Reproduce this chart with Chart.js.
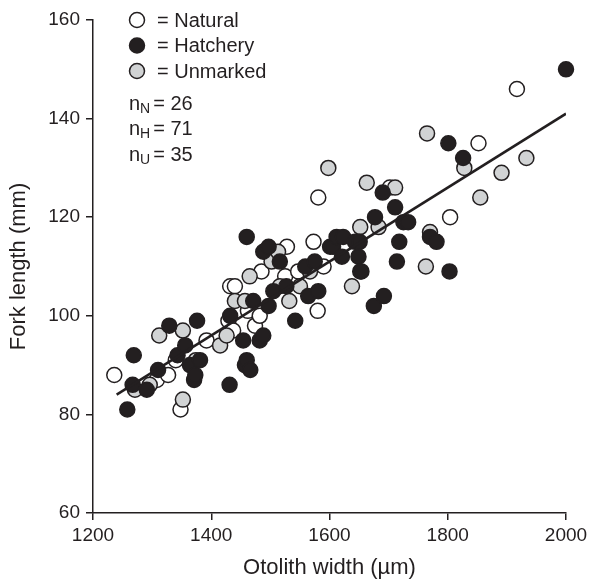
<!DOCTYPE html>
<html>
<head>
<meta charset="utf-8">
<script src="https://cdn.jsdelivr.net/npm/chart.js@4.4.0/dist/chart.umd.min.js"></script>
<style>
  html, body { margin: 0; padding: 0; background: #fff; }
</style>
</head>
<body>
<canvas id="chart" width="589" height="585"></canvas>
<script>
// otolith width (um), fork length (mm)
const natural = [
  [1236, 88], [1308, 87], [1327, 88], [1340, 91], [1348, 81], [1392, 95],
  [1429, 99], [1437, 97], [1432, 106], [1440, 106], [1462, 101], [1474, 98],
  [1482, 100], [1485, 109], [1525, 108], [1528, 114], [1547, 109], [1573, 115],
  [1580, 101], [1590, 110], [1581, 124], [1702, 126], [1804, 120], [1852, 135],
  [1917, 146]
]
const hatchery = [
  [1258, 81], [1267, 86], [1269, 92], [1291, 85], [1310, 89], [1329, 98],
  [1343, 92], [1356, 94], [1364, 90], [1371, 87], [1373, 88], [1376, 99],
  [1381, 91], [1431, 86], [1432, 100], [1454, 95], [1457, 90], [1460, 91],
  [1466, 89], [1471, 103], [1482, 95], [1488, 96], [1497, 102], [1505, 105],
  [1527, 106], [1542, 99], [1564, 104], [1581, 105], [1460, 116], [1488, 113],
  [1497, 114], [1516, 111], [1559, 110], [1575, 111], [1601, 114], [1606, 114],
  [1612, 116], [1623, 116], [1621, 112], [1643, 115], [1649, 112], [1651, 115],
  [1652, 109], [1654, 109], [1675, 102], [1692, 104], [1677, 120], [1690, 125],
  [1711, 122], [1714, 111], [1718, 115], [1725, 119], [1733, 119], [1770, 116],
  [1781, 115], [1803, 109], [1801, 135], [1826, 132], [2000, 150]
]
const unmarked = [
  [1271, 85], [1296, 86], [1312, 96], [1352, 97], [1352, 83], [1374, 91],
  [1415, 94], [1426, 96], [1440, 103], [1457, 103], [1465, 108], [1502, 111],
  [1513, 113], [1516, 106], [1532, 103], [1550, 106], [1567, 109], [1598, 130],
  [1638, 106], [1652, 118], [1663, 127], [1683, 118], [1711, 126], [1763, 110],
  [1765, 137], [1770, 117], [1828, 130], [1855, 124], [1891, 129], [1933, 132]
]
const fitX = [1240, 2000]
const fitY = [84, 141]

const counts = [['N', 26], ['H', 71], ['U', 35]]
const legendItems = [['Natural', '#ffffff'], ['Hatchery', '#231f20'], ['Unmarked', '#d1d3d4']]

const ink = '#231f20'
const family = '"Liberation Sans", Arial, sans-serif'
const toPts = (arr) => arr.map((p) => ({ x: p[0], y: p[1] }))

const pointSet = (label, arr, fill) => ({
  type: 'scatter',
  label,
  data: toPts(arr),
  backgroundColor: fill,
  borderColor: ink,
  borderWidth: 1.5,
  pointRadius: 7.5,
  clip: false,
})

// legend + sample sizes drawn in the top left corner
const legendPlugin = {
  id: 'cornerLegend',
  afterDatasetsDraw(chart) {
    const ctx = chart.ctx
    ctx.save()
    ctx.textBaseline = 'middle'
    legendItems.forEach((item, i) => {
      const y = 20 + i * 25.5
      ctx.beginPath()
      ctx.arc(137, y, 7.5, 0, Math.PI * 2)
      ctx.fillStyle = item[1]
      ctx.fill()
      ctx.lineWidth = 1.5
      ctx.strokeStyle = ink
      ctx.stroke()
      ctx.fillStyle = ink
      ctx.font = '20px ' + family
      ctx.fillText('= ' + item[0], 157, y + 1)
    })
    counts.forEach((c, i) => {
      const y = 104 + i * 25.5
      ctx.font = '20px ' + family
      ctx.fillText('n', 129, y)
      let x = 129 + ctx.measureText('n').width
      ctx.font = '14px ' + family
      ctx.fillText(c[0], x, y + 5)
      x += ctx.measureText(c[0]).width + 3
      ctx.font = '20px ' + family
      ctx.fillText('= ' + c[1], x, y)
    })
    ctx.restore()
  },
}

const ctx = document.getElementById('chart').getContext('2d')
new Chart(ctx, {
  data: {
    datasets: [
      {
        type: 'line',
        label: 'fit',
        data: toPts(fitX.map((x, i) => [x, fitY[i]])),
        borderColor: ink,
        borderWidth: 2.5,
        pointRadius: 0,
        fill: false,
      },
      pointSet('Hatchery', hatchery, '#231f20'),
      pointSet('Unmarked', unmarked, '#d1d3d4'),
      pointSet('Natural', natural, '#ffffff'),
    ],
  },
  options: {
    responsive: false,
    animation: false,
    layout: { padding: { left: 0, right: 23, top: 20, bottom: 0 } },
    plugins: {
      legend: { display: false },
      tooltip: { enabled: false },
    },
    scales: {
      x: {
        type: 'linear',
        min: 1200,
        max: 2000,
        ticks: {
          stepSize: 200,
          color: ink,
          padding: 4,
          font: { size: 19, family },
          callback: (value) => String(value),
        },
        grid: { drawOnChartArea: false, color: ink, lineWidth: 1.5, tickLength: 7 },
        border: { color: ink, width: 1.5 },
        title: { display: true, text: 'Otolith width (µm)', color: ink, padding: { top: 0, bottom: 4 }, font: { size: 22, family } },
        afterFit: (scale) => {
          scale.height = 72
          scale.paddingRight = 0
          scale.paddingLeft = 0
        },
      },
      y: {
        min: 60,
        max: 160,
        ticks: { stepSize: 20, color: ink, padding: 6, font: { size: 19, family } },
        grid: { drawOnChartArea: false, color: ink, lineWidth: 1.5, tickLength: 7 },
        border: { color: ink, width: 1.5 },
        title: { display: true, text: 'Fork length (mm)', color: ink, padding: { top: 6, bottom: 0 }, font: { size: 22, family } },
        afterFit: (scale) => { scale.width = 93 },
      },
    },
  },
  plugins: [legendPlugin],
})
</script>
</body>
</html>
